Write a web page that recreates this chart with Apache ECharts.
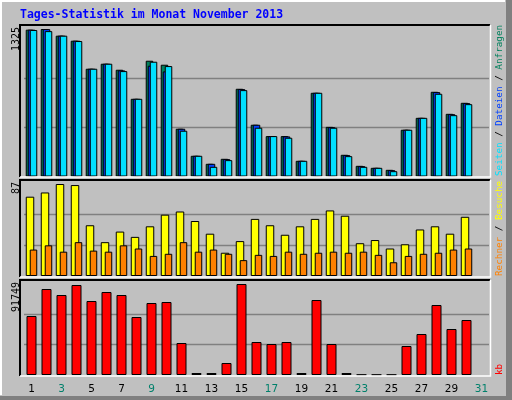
<!DOCTYPE html>
<html><head><meta charset="utf-8">
<script src="https://cdn.jsdelivr.net/npm/echarts@6/dist/echarts.min.js"></script>
<style>html,body{margin:0;padding:0;background:#c0c0c0}#c{width:512px;height:400px}</style>
</head><body><div id="c"></div>
<script>
const days = ['1','2','3','4','5','6','7','8','9','10','11','12','13','14','15','16','17','18','19','20','21','22','23','24','25','26','27','28','29','30','31'];
const weekend = [2,3,9,10,16,17,23,24,30,31];
const hits  = [1319,1325,1265,1220,968,1013,959,698,1040,1004,429,186,114,159,788,465,363,363,141,752,446,195,96,78,60,420,527,761,563,662,null];
const files = [1319,1324,1265,1220,968,1013,953,698,995,944,429,186,114,156,785,465,363,360,141,752,443,192,93,78,57,420,527,758,560,659,null];
const pages = [1316,1306,1265,1217,968,1013,947,698,1031,992,411,186,87,147,776,438,363,348,141,752,438,183,87,78,48,420,527,743,551,650,null];
const visits= [75,79,87,86,48,32,42,37,47,58,61,52,40,22,33,54,48,39,47,54,62,57,31,34,26,30,44,47,40,56,null];
const sites = [25,29,23,32,24,23,29,26,19,21,32,23,25,21,15,20,19,23,21,22,23,22,23,20,13,19,21,22,25,26,null];
const kbytes= [59484,86707,80657,90739,74608,83681,80657,58476,72592,73600,32262,2016,2016,12098,91749,33271,31254,33271,2016,75615,31254,2016,300,300,300,29238,41336,70574,46377,55451,null];
const maxLabels = ['1325','87','91749'];
const title = 'Tages-Statistik im Monat November 2013';

const ch = echarts.init(document.getElementById('c'));
const mono = 'DejaVu Sans Mono';
const tops = [29,184,284], heights=[147.5,92,91];
const maxes = maxLabels.map(Number);
const grid = tops.map((t,i)=>({left:24,right:23,top:t,height:heights[i]}));
const xAxis = tops.map((t,i)=>({type:'category',data:days,gridIndex:i,axisLine:{show:false},axisTick:{show:false},
  axisLabel:{show:i===2,margin:9,fontFamily:'DejaVu Sans',fontSize:10.5,
    color:(v)=>weekend.includes(Number(v))?'#00806b':'#000'}}));
const yAxis = tops.map((t,i)=>({type:'value',gridIndex:i,min:0,max:maxes[i],axisLabel:{show:false},axisLine:{show:false},axisTick:{show:false},splitLine:{show:false}}));
function gl(i){return {silent:true,symbol:'none',label:{show:false},lineStyle:{color:'#808080',type:'solid',width:1.3},
  data:[{yAxis:maxes[i]/3},{yAxis:maxes[i]*2/3}],z:1};}
const b = {type:'bar',itemStyle:{borderColor:'#000',borderWidth:1},silent:true,animation:false};
const series = [
  {...b,xAxisIndex:0,yAxisIndex:0,data:hits,barWidth:7.5,barGap:'-73%',itemStyle:{...b.itemStyle,color:'#00805c'},markLine:gl(0)},
  {...b,xAxisIndex:0,yAxisIndex:0,data:files,barWidth:7.5,barGap:'-73%',itemStyle:{...b.itemStyle,color:'#0040ff'}},
  {...b,xAxisIndex:0,yAxisIndex:0,data:pages,barWidth:7.5,barGap:'-73%',itemStyle:{...b.itemStyle,color:'#00e0ff'}},
  {...b,xAxisIndex:1,yAxisIndex:1,data:visits,barWidth:8.5,barGap:'-53%',itemStyle:{...b.itemStyle,color:'#ffff00'},markLine:gl(1)},
  {...b,xAxisIndex:1,yAxisIndex:1,data:sites,barWidth:7.5,barGap:'-53%',itemStyle:{...b.itemStyle,color:'#ff8000'}},
  {...b,xAxisIndex:2,yAxisIndex:2,data:kbytes,barWidth:10,itemStyle:{...b.itemStyle,color:'#ff0000'},markLine:gl(2)}
];
const panels=[[25,177],[180,277],[280,376]];
const g=[
  {type:'rect',shape:{x:0,y:0,width:512,height:400},style:{fill:'#c0c0c0'},z:-10},
  {type:'polyline',shape:{points:[[1,395],[1,1],[505,1]]},style:{stroke:'#fff',lineWidth:2,fill:null},z:-9},
  {type:'rect',shape:{x:506,y:0,width:6,height:400},style:{fill:'#808080'},z:-9},
  {type:'rect',shape:{x:0,y:396,width:512,height:4},style:{fill:'#808080'},z:-9},
  {type:'text',x:20,y:15,style:{text:title,fill:'#0000ff',font:'bold 11.5px '+mono,textVerticalAlign:'middle'}}
];
panels.forEach((p,i)=>{
  g.push({type:'polyline',shape:{points:[[20,p[1]],[20,p[0]],[490,p[0]]]},style:{stroke:'#000',lineWidth:2,fill:null},z:10});
  g.push({type:'polyline',shape:{points:[[490.5,p[0]],[490.5,p[1]],[20,p[1]]]},style:{stroke:'#fff',lineWidth:1.5,fill:null},z:10});
  g.push({type:'text',x:16,y:p[0]+2,rotation:Math.PI/2,style:{text:maxLabels[i],fill:'#000',font:'10px '+mono,align:'right',verticalAlign:'middle'},z:10});
});
const rs={font:'9.3px '+mono};
g.push({type:'text',x:500,y:176,rotation:Math.PI/2,style:{text:'{c|Seiten} / {b|Dateien} / {g|Anfragen}',fill:'#000',font:'9.3px '+mono,align:'left',verticalAlign:'middle',
  rich:{c:{fill:'#00e0ff',...rs},b:{fill:'#0040ff',...rs},g:{fill:'#00805c',...rs}}},z:10});
g.push({type:'text',x:500,y:276,rotation:Math.PI/2,style:{text:'{o|Rechner} / {y|Besuche}',fill:'#000',font:'9.3px '+mono,align:'left',verticalAlign:'middle',
  rich:{o:{fill:'#ff8000',...rs},y:{fill:'#ffff00',...rs}}},z:10});
g.push({type:'text',x:500,y:375,rotation:Math.PI/2,style:{text:'kb',fill:'#ff0000',font:'9.3px '+mono,align:'left',verticalAlign:'middle'},z:10});
ch.setOption({animation:false,grid,xAxis,yAxis,series,graphic:g});
</script></body></html>
